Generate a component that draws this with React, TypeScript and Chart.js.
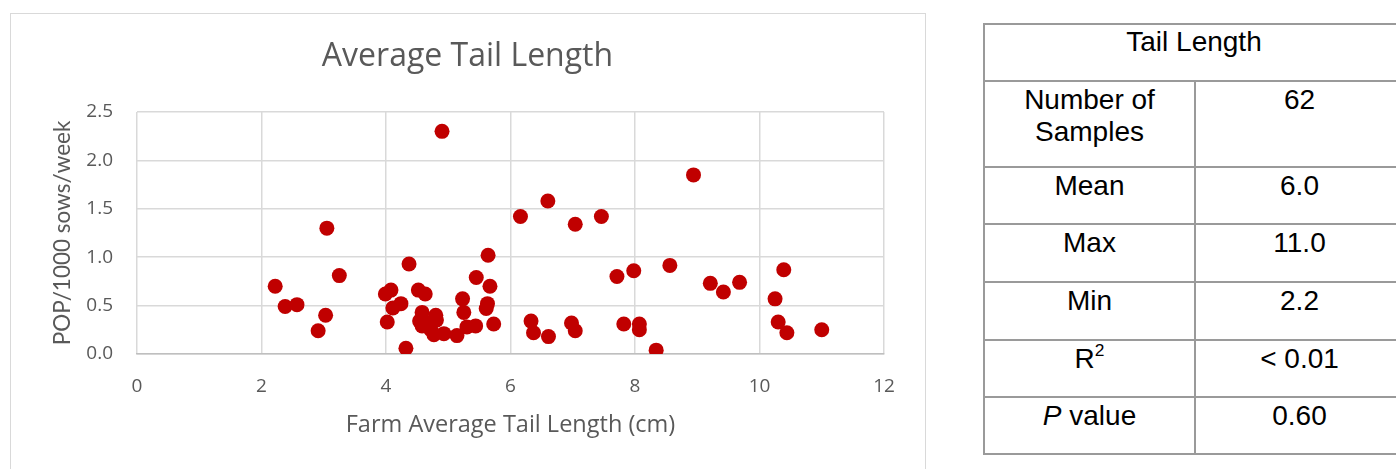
import React, { useEffect, useRef } from "react";
import { Chart, registerables } from "chart.js";

Chart.register(...registerables);

// ---- Data ----
const chartTitle = "Average Tail Length";
const xAxisTitle = "Farm Average Tail Length (cm)";
const yAxisTitle = "POP/1000 sows/week";

// Farm average tail length (cm)
const tailLength = [
  2.22, 2.38, 2.57, 2.91, 3.03, 3.05, 3.25,
  3.99, 4.08, 4.02, 4.11, 4.24, 4.32, 4.37, 4.52, 4.63,
  4.90, 4.58, 4.54, 4.58, 4.81, 4.80, 4.72, 4.77, 4.93, 5.14,
  5.23, 5.25, 5.30, 5.44, 5.45, 5.64, 5.67, 5.63, 5.61, 5.73,
  6.16, 6.60, 6.33, 6.37, 6.61, 6.98, 7.04, 7.04, 7.46,
  7.71, 7.98, 7.82, 8.07, 8.07, 8.34, 8.56, 8.94, 9.21, 9.42, 9.68,
  10.25, 10.30, 10.39, 10.44, 11.0, 4.68,
];

// POP per 1000 sows per week
const popRate = [
  0.70, 0.49, 0.51, 0.24, 0.40, 1.30, 0.81,
  0.62, 0.66, 0.33, 0.475, 0.52, 0.06, 0.93, 0.66, 0.62,
  2.30, 0.43, 0.34, 0.29, 0.35, 0.40, 0.25, 0.20, 0.21, 0.19,
  0.57, 0.43, 0.28, 0.29, 0.79, 1.02, 0.70, 0.52, 0.47, 0.31,
  1.42, 1.58, 0.34, 0.22, 0.18, 0.32, 0.24, 1.34, 1.42,
  0.80, 0.86, 0.31, 0.31, 0.25, 0.04, 0.915, 1.85, 0.73, 0.64, 0.74,
  0.57, 0.33, 0.87, 0.22, 0.25, 0.32,
];

const xMin = 0;
const xMax = 12;
const xStep = 2;
const yMin = 0;
const yMax = 2.5;
const yStep = 0.5;

// Summary table
const tableHeader = "Tail Length";
const tableLabels = ["Number of\nSamples", "Mean", "Max", "Min", "R2", "P value"];
const tableValues = ["62", "6.0", "11.0", "2.2", "< 0.01", "0.60"];

// ---- Layout constants ----
const FONT_H = "'Open Sans', Lato, sans-serif";
const FONT_V = "Lato, 'Open Sans', sans-serif";
const GREY = "#595959";
const TABLE_FONT = "'Liberation Sans', Arial, sans-serif";
const tableX = [984, 1195, 1404];
const tableY = [24, 81, 167, 224, 282, 340, 397, 454];
const LINE = "#9a9a9a";

function LabelText({ text }: { text: string }) {
  if (text === "R2") {
    return (
      <span>
        R<sup style={{ fontSize: "0.62em", verticalAlign: "0.7em", lineHeight: 0 }}>2</sup>
      </span>
    );
  }
  if (text === "P value") {
    return (
      <span>
        <i>P</i> value
      </span>
    );
  }
  return (
    <span>
      {text.split("\n").map((t, i) => (
        <div key={i}>{t}</div>
      ))}
    </span>
  );
}

function SummaryTable() {
  const cells: React.ReactNode[] = [];
  const textStyle = (left: number, width: number, top: number): React.CSSProperties => ({
    position: "absolute",
    left,
    width,
    top,
    textAlign: "center",
    fontFamily: TABLE_FONT,
    fontSize: 28,
    lineHeight: "32px",
    color: "#000",
  });
  cells.push(
    <div key="h" style={textStyle(tableX[0], tableX[2] - tableX[0], tableY[0] + 2)}>
      {tableHeader}
    </div>
  );
  tableLabels.forEach((lab, i) => {
    const top = tableY[i + 1] + 3;
    cells.push(
      <div key={"l" + i} style={textStyle(tableX[0], tableX[1] - tableX[0], top)}>
        <LabelText text={lab} />
      </div>
    );
    cells.push(
      <div key={"v" + i} style={textStyle(tableX[1], tableX[2] - tableX[1], top)}>
        {tableValues[i]}
      </div>
    );
  });
  tableY.forEach((y, i) => {
    cells.push(
      <div
        key={"hl" + i}
        style={{
          position: "absolute",
          left: tableX[0] - 1,
          width: tableX[2] - tableX[0] + 2,
          top: y - 1,
          height: 2,
          background: LINE,
        }}
      />
    );
  });
  cells.push(
    <div key="vl0" style={{ position: "absolute", left: tableX[0] - 1, width: 2, top: tableY[0] - 1, height: tableY[7] - tableY[0] + 2, background: LINE }} />
  );
  cells.push(
    <div key="vl1" style={{ position: "absolute", left: tableX[1] - 1, width: 2, top: tableY[1] - 1, height: tableY[7] - tableY[1] + 2, background: LINE }} />
  );
  cells.push(
    <div key="vl2" style={{ position: "absolute", left: tableX[2] - 1, width: 2, top: tableY[0] - 1, height: tableY[7] - tableY[0] + 2, background: LINE }} />
  );
  return <>{cells}</>;
}

export default function App() {
  const canvasRef = useRef<HTMLCanvasElement | null>(null);

  useEffect(() => {
    if (!canvasRef.current) return;
    const points = tailLength.map((x, i) => ({ x, y: popRate[i] }));
    const chart = new Chart(canvasRef.current, {
      type: "scatter",
      data: {
        datasets: [
          {
            label: "POP",
            data: points,
            pointRadius: 7.5,
            pointHoverRadius: 7.5,
            pointBackgroundColor: "#C00000",
            pointBorderWidth: 0,
            pointBorderColor: "#C00000",
          },
        ],
      },
      options: {
        animation: false,
        responsive: false,
        devicePixelRatio: 1,
        layout: { padding: { left: 41, right: 41, top: 0, bottom: 0 } },
        plugins: {
          legend: { display: false },
          tooltip: { enabled: false },
          title: {
            display: true,
            text: chartTitle,
            color: GREY,
            font: { family: FONT_H, size: 32, weight: "normal", lineHeight: 1.2 },
            padding: { top: 24.8, bottom: 35.8 },
          },
        },
        scales: {
          x: {
            type: "linear",
            min: xMin,
            max: xMax,
            ticks: {
              stepSize: xStep,
              color: GREY,
              padding: 21,
              font: { family: FONT_H, size: 19 },
            },
            grid: { color: "#D9D9D9", lineWidth: 1.5, drawTicks: false },
            border: { display: true, color: "#BFBFBF", width: 1.5 },
            title: {
              display: true,
              text: xAxisTitle,
              color: GREY,
              font: { family: FONT_H, size: 23.5 },
              padding: { top: 0, bottom: 30 },
            },
            afterFit: (scale: any) => {
              scale.height = 115;
            },
          },
          y: {
            type: "linear",
            min: yMin,
            max: yMax,
            ticks: {
              stepSize: yStep,
              color: GREY,
              padding: 24,
              font: { family: FONT_H, size: 19 },
              callback: (v: any) => Number(v).toFixed(1),
            },
            grid: { color: "#D9D9D9", lineWidth: 1.5, drawTicks: false },
            border: { display: false },
            title: {
              display: true,
              text: yAxisTitle,
              color: GREY,
              font: { family: FONT_V, size: 22.5, lineHeight: 1 },
              padding: { top: 0, bottom: 0 },
            },
            afterFit: (scale: any) => {
              scale.width = 86;
            },
          },
        },
      },
    });
    return () => chart.destroy();
  }, []);

  return (
    <div
      style={{
        position: "absolute",
        left: 0,
        top: 0,
        width: 1396,
        height: 469,
        overflow: "hidden",
        background: "#fff",
      }}
    >
      <div
        style={{
          position: "absolute",
          left: 10,
          top: 13,
          width: 916,
          height: 480,
          border: "1px solid #D9D9D9",
          boxSizing: "border-box",
        }}
      />
      <canvas
        ref={canvasRef}
        width={915}
        height={456}
        style={{ position: "absolute", left: 10, top: 13, width: 915, height: 456 }}
      />
      <SummaryTable />
    </div>
  );
}
